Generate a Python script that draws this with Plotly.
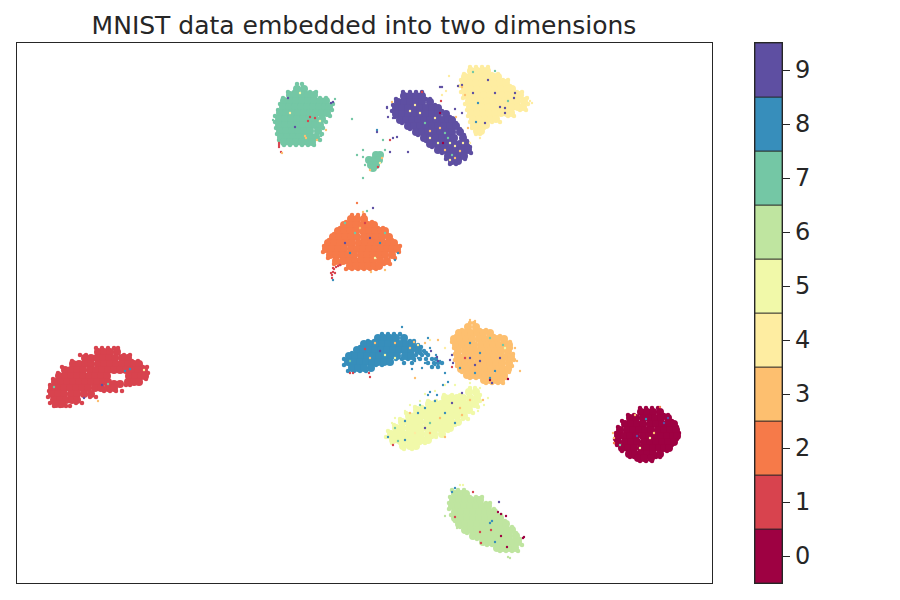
import plotly.graph_objects as go

digits = [0, 1, 2, 3, 4, 5, 6, 7, 8, 9]
digit_colors = ["#9e0142", "#d8434e", "#f67a49", "#fdbf6f", "#feeda1",
                "#f1f9a9", "#bfe5a0", "#74c7a5", "#378ebb", "#5e4fa2"]

# Embedding readings, listed as {y: [x, ...]} per digit.
cluster_0 = {
    171: [641, 647, 653, 660],
    165: [630, 636, 643, 649, 655, 661, 668],
    159: [625, 631, 637, 643, 650, 656, 662, 668, 674],
    153: [620, 627, 633, 639, 645, 651, 658, 664, 670, 676],
    147: [618, 624, 630, 636, 643, 649, 655, 661, 667, 673, 677],
    141: [618, 625, 631, 637, 644, 650, 656, 662, 668, 674],
    135: [622, 628, 634, 641, 647, 653, 659, 664, 669],
    129: [629, 635, 641, 647, 653, 660],
    125: [638, 644, 651],
}
cluster_1 = {
    231: [98, 104, 110, 117],
    225: [85, 91, 97, 103, 109, 115, 122, 128],
    219: [73, 79, 85, 91, 98, 104, 110, 116, 122, 128, 134, 139],
    213: [65, 71, 77, 83, 90, 96, 102, 108, 114, 120, 126, 132, 138, 144],
    207: [59, 65, 71, 77, 83, 89, 95, 101, 107, 129, 135, 141, 145],
    201: [55, 61, 67, 73, 79, 85, 91, 97, 103, 108, 128, 134, 139],
    199: [114, 120],
    195: [52, 58, 64, 70, 76, 82, 88, 95, 101, 108, 114],
    189: [52, 58, 64, 71, 77, 84, 91],
    183: [54, 60, 66, 72, 77],
    179: [56, 62],
}
cluster_2 = {
    364: [351, 357, 364],
    358: [344, 350, 356, 362, 368, 374],
    352: [338, 344, 350, 356, 363, 369, 375, 381, 385],
    346: [333, 339, 345, 351, 357, 364, 370, 376, 382, 389],
    340: [328, 334, 340, 346, 352, 359, 365, 371, 377, 383, 389, 394],
    334: [326, 332, 338, 344, 351, 357, 363, 369, 375, 381, 387, 392, 397],
    328: [330, 336, 342, 348, 354, 361, 367, 373, 379, 385, 392],
    322: [336, 343, 349, 355, 361, 367, 373, 380, 387],
    317: [350, 356, 362, 368, 374, 379],
}
cluster_3 = {
    256: [468, 476],
    250: [459, 465, 471, 477, 483, 490],
    244: [454, 460, 466, 472, 479, 485, 491, 497, 504],
    238: [456, 462, 468, 474, 481, 487, 493, 499, 505, 509],
    232: [458, 465, 471, 477, 483, 489, 495, 501, 508],
    226: [458, 464, 470, 476, 482, 488, 494, 500, 506, 511],
    220: [459, 465, 471, 478, 484, 490, 496, 502, 509],
    214: [461, 467, 473, 479, 485, 491, 497, 503, 508],
    208: [467, 473, 479, 485, 491, 498, 504],
    203: [484, 490, 496, 501],
}
cluster_4 = {
    512: [471, 477, 483, 487],
    506: [465, 471, 477, 483, 489, 494, 498],
    500: [464, 470, 476, 482, 488, 494, 500, 506],
    494: [465, 471, 477, 483, 489, 495, 501, 507, 512],
    488: [466, 472, 478, 484, 490, 496, 502, 508, 514, 520],
    482: [469, 475, 481, 487, 493, 499, 505, 511, 517, 524],
    476: [470, 476, 482, 488, 494, 500, 506, 512, 518, 523],
    470: [471, 477, 483, 489, 495, 501, 507, 511],
    464: [473, 479, 485, 491, 496],
    458: [474, 480, 486],
    452: [477, 481],
}
cluster_5 = {
    191: [469, 476],
    185: [445, 451, 457, 463, 470, 477],
    179: [429, 435, 441, 447, 453, 459, 465, 471, 475],
    173: [417, 423, 429, 435, 441, 447, 453, 459, 465, 469],
    167: [409, 415, 421, 427, 433, 439, 445, 451, 457, 464],
    161: [402, 408, 414, 420, 427, 433, 439, 445, 451, 458],
    155: [396, 402, 409, 415, 421, 427, 433, 439, 445, 450],
    149: [391, 397, 403, 409, 415, 421, 428, 434, 442],
    143: [393, 399, 405, 411, 417, 423, 428],
    137: [403, 410, 416],
}
cluster_6 = {
    89: [455, 461, 466],
    83: [453, 459, 465, 471, 477, 480],
    77: [452, 458, 464, 470, 476, 482, 488],
    71: [455, 461, 467, 473, 479, 485, 490, 494],
    65: [455, 461, 467, 473, 479, 485, 491, 497, 500],
    59: [459, 465, 471, 477, 483, 489, 495, 501, 506],
    53: [465, 471, 477, 483, 489, 495, 501, 507, 512],
    47: [473, 479, 485, 491, 497, 503, 509, 516],
    41: [483, 489, 495, 501, 507, 513, 518],
    35: [497, 503, 509, 515],
}
cluster_7 = {
    494: [297, 304],
    488: [290, 296, 302, 308, 314],
    482: [284, 290, 296, 302, 308, 314, 320, 326],
    476: [283, 289, 295, 301, 307, 313, 319, 325, 329],
    470: [280, 286, 292, 298, 304, 310, 316, 322, 327],
    464: [279, 285, 291, 297, 303, 309, 315, 322],
    458: [279, 285, 291, 297, 303, 309, 315, 320],
    452: [280, 286, 292, 298, 304, 310, 318],
    446: [281, 287, 293, 299, 305, 311, 316],
    441: [284, 290, 296, 302, 308, 312],
    428: [376, 380],
    423: [369, 374, 379],
    418: [371, 376],
    415: [373],
}
cluster_8 = {
    245: [378, 384, 390, 396, 404],
    239: [364, 370, 376, 382, 388, 394, 400, 406, 412],
    233: [357, 363, 369, 375, 381, 387, 393, 399, 405, 411, 418],
    227: [349, 355, 361, 367, 373, 379, 385, 391, 397, 405, 411],
    221: [348, 354, 360, 366, 372, 378, 384, 390],
    215: [352, 358, 364, 371],
}
cluster_9 = {
    487: [404, 410, 416, 422],
    481: [398, 404, 410, 416, 422, 430],
    475: [396, 402, 408, 414, 420, 426, 432, 438],
    469: [396, 402, 408, 414, 420, 426, 432, 438, 446],
    463: [400, 406, 412, 418, 424, 430, 436, 442, 448, 452],
    457: [408, 414, 420, 426, 432, 438, 444, 450, 456],
    451: [416, 422, 428, 434, 440, 446, 452, 460],
    445: [424, 430, 436, 442, 448, 454, 463],
    439: [430, 436, 442, 448, 454, 460, 466],
    433: [438, 444, 450, 456, 462, 468],
    427: [448, 454, 460, 464],
    422: [452, 458],
}
clusters = [cluster_0, cluster_1, cluster_2, cluster_3, cluster_4,
            cluster_5, cluster_6, cluster_7, cluster_8, cluster_9]

# Outer points of each digit's group.
rim_0 = {175: [640, 646, 652, 658], 168: [628, 634, 664, 668], 162: [622, 672], 156: [618, 677],
         150: [616, 679], 144: [615, 677], 138: [617, 672], 132: [622, 667],
         126: [630, 634, 656, 660], 122: [640, 646, 652]}
rim_1 = {235: [96, 102, 108, 114, 118], 228: [80, 86, 124, 130], 222: [72, 132, 138],
         216: [62, 143, 147], 210: [58, 148], 204: [53, 146, 140], 198: [50, 126, 130],
         192: [49, 104, 110, 116, 122], 186: [48, 90, 96], 180: [50, 76, 82], 177: [54, 60, 66, 70]}
rim_2 = {368: [352, 358, 364], 361: [346, 366, 372], 355: [340, 378, 383], 349: [334, 387],
         343: [329, 392], 337: [324, 397, 400], 331: [323, 399], 325: [328, 395],
         319: [334, 340, 390, 384], 314: [346, 352, 358, 364, 370, 376]}
rim_3 = {260: [470, 474], 253: [462, 468, 480, 486], 247: [456, 494, 500], 241: [452, 510, 506],
         235: [454, 511], 229: [455, 513], 223: [455, 514], 217: [457, 512], 211: [462, 509],
         205: [470, 476, 506], 200: [486, 492, 498, 503]}
rim_4 = {516: [470, 476, 482, 488], 509: [464, 492, 498], 503: [461, 503, 508], 497: [460, 510],
         491: [461, 517, 522], 485: [463, 527], 479: [465, 528], 473: [467, 526, 520],
         467: [468, 514, 508], 461: [470, 500, 492], 455: [472, 484], 449: [476, 480]}
rim_5 = {195: [470, 475], 188: [444, 452, 460, 478, 480], 182: [428, 436, 480], 176: [415, 422, 478],
         170: [406, 473], 164: [400, 468, 463], 158: [394, 455], 152: [388, 448],
         146: [386, 390, 436, 432], 140: [392, 400, 420, 425], 134: [404, 412]}
rim_6 = {93: [452, 458, 464], 86: [450, 470, 476, 482], 80: [449, 486, 490], 74: [449, 494],
         68: [451, 501, 497], 62: [455, 505], 56: [460, 512], 50: [467, 516], 44: [477, 520],
         38: [487, 492, 522], 32: [500, 506, 512, 518]}
rim_7 = {499: [297, 302], 491: [288, 294, 310, 316], 485: [283, 320, 326], 479: [280, 332, 333],
         473: [278, 332], 467: [275, 330], 461: [275, 326], 455: [276, 323], 449: [277, 322],
         443: [279, 320], 438: [284, 290, 296, 302, 308, 314]}
rim_8 = {249: [382, 388, 394, 400], 242: [368, 374, 404, 410, 414], 238: [418], 236: [360, 416, 421],
         232: [424], 230: [352, 358, 420, 426], 228: [416, 422, 428],
         224: [344, 350, 396, 402, 408, 414, 420, 426, 432, 436], 220: [404, 412, 428, 434, 438, 442],
         218: [344, 350, 376, 382], 216: [432, 438], 212: [348, 354, 360, 366]}
rim_9 = {491: [403, 410, 416, 422], 484: [396, 426, 430], 478: [393, 435], 472: [392, 442],
         466: [395, 450], 460: [402, 456], 454: [410, 460], 448: [418, 464], 442: [426, 467],
         436: [432, 470], 430: [442, 471], 424: [446, 465, 460], 419: [450, 456]}
rims = [rim_0, rim_1, rim_2, rim_3, rim_4, rim_5, rim_6, rim_7, rim_8, rim_9]

# Isolated points as (digit, x, y), grouped by the digit group they sit in or near.
strays_near_7 = [(1, 279, 438), (1, 279, 436), (1, 281, 431), (3, 282, 430), (1, 279, 440), (9, 333, 481),
                 (9, 331, 480), (3, 317, 443), (1, 308, 462), (3, 306, 445), (9, 288, 485), (1, 310, 466),
                 (3, 305, 447), (9, 295, 456), (5, 320, 462), (3, 326, 453), (5, 300, 490), (4, 290, 470),
                 (1, 315, 465), (7, 335, 484), (7, 273, 463), (7, 321, 447), (7, 318, 447), (7, 308, 438),
                 (7, 300, 439), (7, 352, 464), (8, 377, 453), (9, 377, 451), (7, 363, 433), (7, 357, 428),
                 (7, 383, 443), (1, 390, 443), (9, 393, 445), (9, 397, 446), (7, 385, 433), (9, 390, 431),
                 (9, 408, 431), (7, 363, 405), (3, 382, 425), (1, 378, 416), (3, 370, 413), (7, 368, 425),
                 (4, 380, 420), (7, 365, 418), (7, 363, 426)]
strays_near_9 = [(9, 440, 496), (9, 442, 496), (1, 422, 491), (3, 392, 481), (9, 387, 475), (9, 387, 476),
                 (9, 388, 466), (9, 393, 465), (4, 420, 470), (7, 425, 460), (4, 435, 465), (3, 440, 455),
                 (7, 445, 450), (4, 430, 445), (5, 450, 440), (0, 440, 470), (4, 455, 437), (7, 448, 445),
                 (3, 460, 432), (4, 415, 478), (3, 445, 433), (4, 463, 440), (7, 452, 428), (4, 410, 472),
                 (3, 430, 452), (5, 438, 440), (1, 441, 482), (0, 443, 440), (3, 455, 425), (4, 450, 423),
                 (9, 458, 497), (9, 462, 498), (3, 462, 496), (3, 456, 466), (9, 455, 474), (9, 462, 470),
                 (3, 468, 455), (4, 449, 507), (4, 446, 492), (4, 442, 488)]
strays_near_4 = [(9, 495, 490), (9, 505, 475), (8, 476, 461), (7, 473, 511), (7, 495, 512), (9, 485, 460),
                 (9, 514, 485), (9, 505, 470), (9, 500, 476), (7, 508, 482), (9, 473, 490), (3, 465, 488),
                 (9, 488, 503), (9, 515, 490), (8, 478, 480), (4, 532, 480), (4, 480, 445), (4, 470, 440),
                 (4, 530, 482)]
strays_near_2 = [(1, 332, 308), (1, 333, 311), (1, 334, 314), (1, 336, 316), (1, 338, 317), (1, 332, 305),
                 (1, 331, 310), (1, 335, 310), (1, 340, 318), (1, 333, 315), (8, 333, 303), (3, 371, 311),
                 (3, 385, 313), (2, 357, 380), (9, 373, 375), (7, 367, 372), (3, 363, 371), (8, 398, 330),
                 (8, 395, 323), (7, 355, 350), (8, 380, 340), (9, 370, 345), (7, 345, 360), (3, 360, 355),
                 (5, 375, 325), (8, 350, 330), (7, 385, 350), (1, 365, 360), (9, 345, 340)]
strays_near_8 = [(8, 402, 256), (1, 350, 210), (1, 353, 210), (1, 370, 206), (1, 369, 210), (3, 370, 225),
                 (3, 395, 240), (5, 385, 228), (3, 410, 235), (1, 365, 234), (5, 395, 225), (7, 350, 222),
                 (3, 375, 240), (9, 380, 232), (8, 418, 225), (8, 425, 230), (8, 430, 235), (8, 436, 228),
                 (8, 440, 222), (8, 435, 218), (8, 425, 220), (8, 415, 222), (8, 422, 215), (8, 412, 214),
                 (9, 431, 232), (9, 437, 226), (9, 452, 228), (9, 453, 220), (9, 450, 223), (9, 438, 222),
                 (4, 430, 243), (3, 425, 240), (3, 438, 243), (4, 445, 235), (8, 428, 245), (1, 452, 216),
                 (4, 418, 238), (3, 414, 241), (8, 445, 210), (8, 430, 191), (8, 443, 198), (8, 448, 201),
                 (8, 437, 188), (8, 435, 182), (8, 428, 188), (7, 420, 178), (8, 425, 175), (8, 418, 170),
                 (9, 462, 190), (9, 492, 200), (0, 490, 203), (0, 508, 204), (3, 483, 183), (3, 415, 205)]
strays_near_3 = [(8, 470, 240), (8, 480, 230), (9, 470, 225), (9, 480, 222), (8, 475, 210), (8, 495, 212),
                 (7, 490, 245), (9, 500, 225), (1, 465, 225), (8, 460, 215), (7, 503, 238), (9, 475, 218),
                 (5, 505, 235), (8, 490, 205), (3, 517, 222), (3, 515, 235), (3, 520, 212), (3, 470, 263),
                 (3, 475, 262)]
strays_near_5 = [(3, 440, 165), (8, 405, 162), (1, 393, 138), (8, 388, 146), (7, 395, 155), (3, 410, 170),
                 (7, 430, 160), (9, 425, 155), (8, 455, 160), (3, 470, 183), (3, 460, 175), (9, 452, 180),
                 (8, 445, 170), (3, 430, 150), (4, 415, 150), (8, 405, 143), (7, 398, 142), (3, 462, 168),
                 (5, 470, 200), (5, 480, 195), (5, 488, 185), (5, 484, 178), (5, 392, 160), (5, 405, 172),
                 (5, 420, 182), (5, 435, 192), (5, 410, 178), (5, 395, 165), (5, 425, 189), (5, 455, 198),
                 (5, 445, 198), (5, 478, 172), (3, 445, 146)]
strays_near_0 = [(2, 614, 140), (3, 614, 145), (3, 613, 150), (8, 646, 164), (9, 664, 160), (9, 668, 165),
                 (3, 635, 168), (2, 660, 176), (7, 620, 138), (4, 650, 145), (9, 637, 147), (5, 640, 135),
                 (3, 654, 150)]
strays_near_6 = [(8, 455, 95), (8, 452, 91), (1, 473, 91), (9, 499, 81), (0, 498, 71), (0, 501, 69), (0, 506, 67),
                 (8, 490, 60), (8, 492, 62), (1, 480, 51), (1, 491, 53), (0, 501, 47), (0, 524, 46), (0, 523, 45),
                 (8, 495, 41), (1, 481, 40), (0, 507, 36), (6, 508, 26), (6, 510, 25), (5, 460, 98), (5, 463, 98),
                 (6, 445, 67), (6, 457, 55), (1, 455, 66)]
strays_near_1 = [(7, 54, 196), (8, 125, 212), (8, 130, 214), (4, 144, 213), (7, 108, 199), (3, 98, 182),
                 (9, 84, 185), (9, 102, 198)]
stray_groups = [strays_near_7, strays_near_9, strays_near_4, strays_near_2, strays_near_8,
                strays_near_3, strays_near_5, strays_near_0, strays_near_6, strays_near_1]


def expand(groups):
    xs, ys, cs = [], [], []
    for digit, group in zip(digits, groups):
        for y_value, x_values in group.items():
            for x_value in x_values:
                xs.append(x_value)
                ys.append(y_value)
                cs.append(digit_colors[digit])
    return xs, ys, cs


rim_x, rim_y, rim_c = expand(rims)
core_x, core_y, core_c = expand(clusters)
stray_points = [point for group in stray_groups for point in group]
stray_x = [p[1] for p in stray_points]
stray_y = [p[2] for p in stray_points]
stray_c = [digit_colors[p[0]] for p in stray_points]

ink = "#262626"
fig = go.Figure()
fig.add_trace(go.Scatter(x=rim_x, y=rim_y, mode="markers", hoverinfo="skip",
                         marker=dict(size=4.5, color=rim_c, line=dict(width=0))))
fig.add_trace(go.Scatter(x=core_x, y=core_y, mode="markers", hoverinfo="skip",
                         marker=dict(size=8, color=core_c, line=dict(width=0))))
fig.add_trace(go.Scatter(x=stray_x, y=stray_y, mode="markers", hoverinfo="skip",
                         marker=dict(size=2.4, color=stray_c, line=dict(width=0))))
fig.add_trace(go.Bar(x=[0] * len(digits), y=[1] * len(digits), base=[d - 0.5 for d in digits],
                     width=1, xaxis="x2", yaxis="y2", hoverinfo="skip",
                     marker=dict(color=digit_colors, line=dict(color=ink, width=0.8))))

fig.update_layout(
    width=900, height=600, showlegend=False,
    margin=dict(l=17, r=118, t=43, b=17),
    paper_bgcolor="white", plot_bgcolor="white",
    font=dict(family="DejaVu Sans", color=ink),
    title=dict(text="MNIST data embedded into two dimensions", x=364 / 900, xanchor="center",
               y=1 - 25 / 600, yanchor="middle", font=dict(size=25, color=ink)),
    barmode="overlay",
    xaxis=dict(domain=[0, 695 / 765], range=[17, 712], showgrid=False, zeroline=False,
               showticklabels=False, ticks="", showline=True, mirror=True, linecolor=ink, linewidth=1.2),
    yaxis=dict(range=[0, 540], showgrid=False, zeroline=False, showticklabels=False, ticks="",
               showline=True, mirror=True, linecolor=ink, linewidth=1.2),
    xaxis2=dict(domain=[738 / 765, 1], range=[-0.5, 0.5], anchor="y2", showgrid=False, zeroline=False,
                showticklabels=False, ticks="", showline=True, mirror=True, linecolor=ink, linewidth=1.2),
    yaxis2=dict(range=[-0.5, 9.5], anchor="x2", side="right", tickmode="array", tickvals=digits,
                ticktext=[str(d) for d in digits], showgrid=False, zeroline=False, ticks="outside",
                ticklen=7, tickwidth=1.2, tickcolor=ink, tickfont=dict(size=24, color=ink),
                showline=True, mirror=True, linecolor=ink, linewidth=1.2),
)
fig.write_html("out.html", config={"displayModeBar": False},
               post_script="document.body.style.margin='0';")
